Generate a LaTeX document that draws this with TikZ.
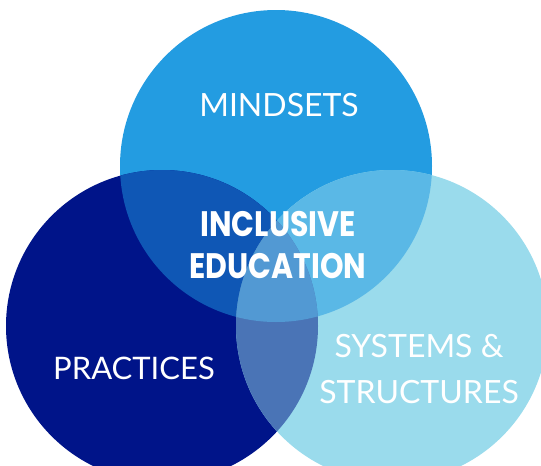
\documentclass[tikz,border=0pt]{standalone}
\usepackage{fontspec}
\setmainfont{Lato}
\newfontfamily\corefont{Poppins}
\definecolor{mindblue}{HTML}{239CE1}
\definecolor{practnavy}{HTML}{001489}
\definecolor{syslight}{HTML}{9ADBEC}
\definecolor{mindpract}{HTML}{0F57B5}
\definecolor{mindsys}{HTML}{5AB8E6}
\definecolor{practsys}{HTML}{4A74B6}
\definecolor{allthree}{HTML}{5299D3}
\begin{document}
\begin{tikzpicture}[x=1pt, y=-1pt]
% define styles
\tikzstyle{every node} = [text=white, align=center, inner sep=0pt]
\tikzstyle{ring label} = [font=\fontsize{31}{46}\selectfont]
\tikzstyle{core label} = [font=\corefont\bfseries\fontsize{30}{36}\selectfont, yscale=1.18, transform shape]

\useasboundingbox (0,0) rectangle (541,466);
\clip (0,0) rectangle (541,466);

% circle centres
\coordinate (M) at (276,166);
\coordinate (P) at (162,326);
\coordinate (S) at (392,326);

% circles
\foreach \c/\col in {M/mindblue, P/practnavy, S/syslight}
    \fill[\col] (\c) circle (156pt);

% pairwise overlaps
\foreach \a/\b/\col in {M/P/mindpract, M/S/mindsys, P/S/practsys}
{
    \begin{scope}
    \clip (\a) circle (156pt);
    \fill[\col] (\b) circle (156pt);
    \end{scope}
}

% middle
\begin{scope}
\clip (M) circle (156pt);
\clip (P) circle (156pt);
\fill[allthree] (S) circle (156pt);
\end{scope}

% labels
\node[ring label, font=\fontsize{32}{46}\selectfont] (mindsets) at (279,105) {MINDSETS};
\node[ring label] (practices) at (134,368) {PRACTICES};
\node[ring label, font=\fontsize{32}{46}\selectfont] (systems) at (419,369) {SYSTEMS \&\\STRUCTURES};
\node[core label] (inclusive) at (278,245) {INCLUSIVE\\EDUCATION};

\end{tikzpicture}
\end{document}
